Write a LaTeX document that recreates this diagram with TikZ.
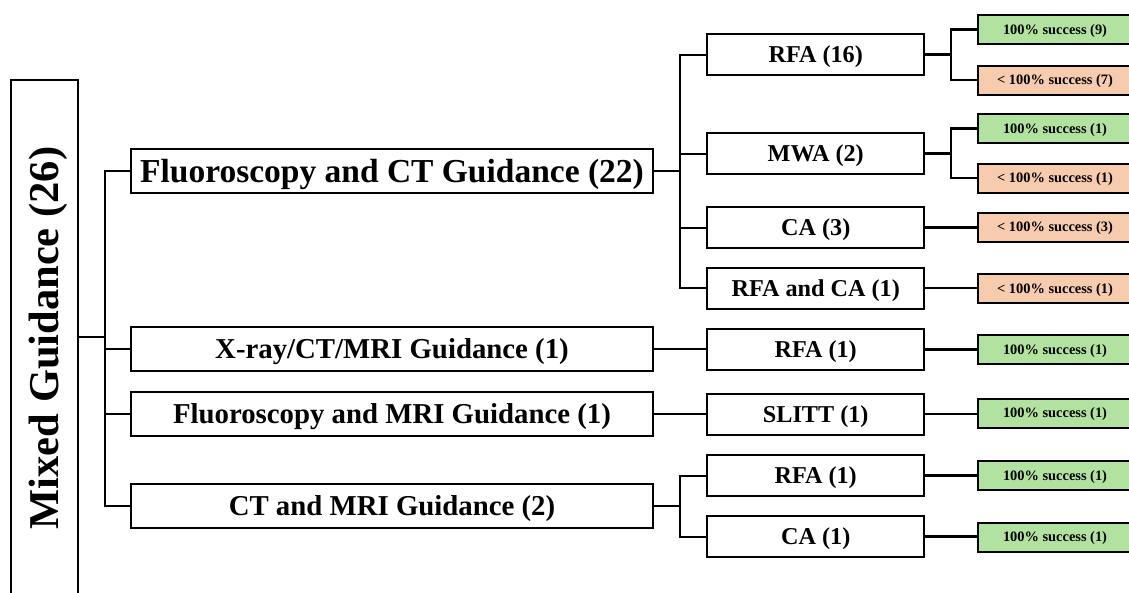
\documentclass[tikz,border=0pt]{standalone}
\usepackage{fontspec}
\setmainfont{Liberation Serif}
\definecolor{okgreen}{RGB}{178,226,160}
\definecolor{failsalmon}{RGB}{247,203,173}
\begin{document}
\begin{tikzpicture}[x=1pt,y=1pt,
  box/.style={draw, line width=2pt, inner sep=0pt, align=center, text depth=0pt, font=\bfseries},
  lone/.style={box, minimum width=522pt, minimum height=44pt, text height=19pt, font=\fontsize{28.8}{30}\selectfont\bfseries},
  ltwo/.style={box, minimum width=217pt, minimum height=41pt, text height=16pt, font=\fontsize{24.2}{26}\selectfont\bfseries},
  lthree/.style={box, minimum width=154pt, minimum height=29pt, text height=9.5pt, font=\fontsize{14.4}{16}\selectfont\bfseries},
  good/.style={lthree, fill=okgreen},
  partial/.style={lthree, fill=failsalmon},
  conn/.style={line width=2pt},
  connb/.style={line width=2.6pt}]
\useasboundingbox (0,0) rectangle (1129,-592);
% root
\node[box, rotate=90, minimum width=516pt, minimum height=67.3pt, text height=28.1pt, font=\fontsize{42.5}{44}\selectfont\bfseries] (root) at (44.3,-338) {Mixed Guidance (26)};
% level 1
\node[lone, text height=22.2pt, font=\fontsize{33.5}{35}\selectfont\bfseries] (fct) at (392,-171) {Fluoroscopy and CT Guidance (22)};
\node[lone] (xr) at (392,-349) {X-ray/CT/MRI Guidance (1)};
\node[lone] (fmri) at (392,-414) {Fluoroscopy and MRI Guidance (1)};
\node[lone] (ctmri) at (392,-506) {CT and MRI Guidance (2)};
% level 2
\node[ltwo] (rfa16) at (815.7,-54.5) {RFA (16)};
\node[ltwo] (mwa) at (815.7,-153.5) {MWA (2)};
\node[ltwo] (ca3) at (815.7,-227.5) {CA (3)};
\node[ltwo] (rfaca) at (815.7,-288) {RFA and CA (1)};
\node[ltwo] (rfa1a) at (815.7,-349.5) {RFA (1)};
\node[ltwo] (slitt) at (815.7,-414) {SLITT (1)};
\node[ltwo] (rfa1b) at (815.7,-475.5) {RFA (1)};
\node[ltwo] (ca1) at (815.7,-536.5) {CA (1)};
% level 3
\node[good] (s9) at (1055,-29.5) {100\% success (9)};
\node[partial] (f7) at (1055,-80) {< 100\% success (7)};
\node[good] (s1a) at (1055,-128.5) {100\% success (1)};
\node[partial] (f1a) at (1055,-178) {< 100\% success (1)};
\node[partial] (f3) at (1055,-227) {< 100\% success (3)};
\node[partial] (f1b) at (1055,-288.5) {< 100\% success (1)};
\node[good] (s1b) at (1055,-349.5) {100\% success (1)};
\node[good] (s1c) at (1055,-413) {100\% success (1)};
\node[good] (s1d) at (1055,-475.5) {100\% success (1)};
\node[good] (s1e) at (1055,-537) {100\% success (1)};
% junctions
\coordinate (jr) at (105,-337);
\coordinate (jf) at (680,-171);
\coordinate (jc) at (680,-506);
\coordinate (ja) at (951,-54.5);
\coordinate (jm) at (951,-153.5);
% root connectors
\draw[conn] (root.south |- jr) -- (jr);
\draw[conn] (fct.west) -| (jr) |- (ctmri.west);
\draw[conn] (jr |- xr.west) -- (xr.west);
\draw[conn] (jr |- fmri.west) -- (fmri.west);
% level 1 to level 2
\draw[conn] (fct.east) -- (jf);
\draw[conn] (rfa16.west) -| (jf) |- (rfaca.west);
\draw[conn] (jf |- mwa.west) -- (mwa.west);
\draw[conn] (jf |- ca3.west) -- (ca3.west);
\draw[conn] (xr.east) -- (xr.east -| rfa1a.west);
\draw[conn] (fmri.east) -- (slitt.west);
\draw[conn] (ctmri.east) -- (jc);
\draw[conn] (rfa1b.west) -| (jc) |- (ca1.west);
% level 2 to level 3
\draw[connb] (rfa16.east) -- (ja);
\draw[conn, line width=2.2pt] (s9.west) -| (ja) |- (f7.west);
\draw[connb] (mwa.east) -- (jm);
\draw[conn, line width=2.2pt] (s1a.west) -| (jm) |- (f1a.west);
\draw[connb] (ca3.east) -- (ca3.east -| f3.west);
\draw[connb] (rfaca.east) -- (rfaca.east -| f1b.west);
\draw[connb] (rfa1a.east) -- (rfa1a.east -| s1b.west);
\draw[connb] (slitt.east) -- (slitt.east -| s1c.west);
\draw[connb] (rfa1b.east) -- (rfa1b.east -| s1d.west);
\draw[connb] (ca1.east) -- (ca1.east -| s1e.west);
\end{tikzpicture}
\end{document}
